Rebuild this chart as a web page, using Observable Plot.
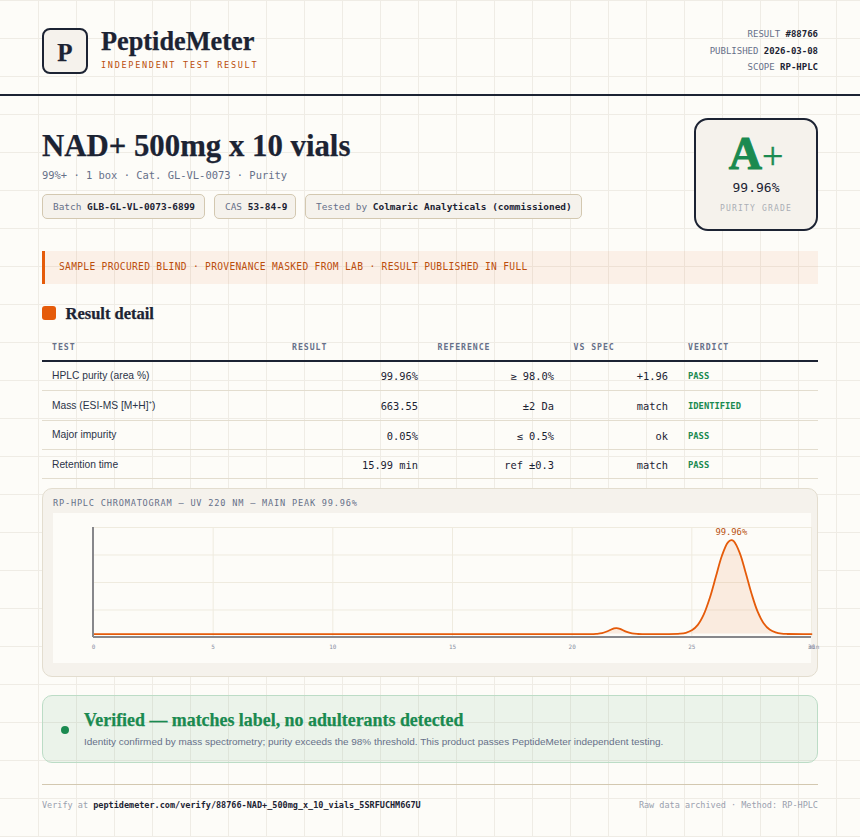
<!DOCTYPE html>
<html lang="en"><head><meta charset="utf-8">
<title>PeptideMeter — NAD+ 500mg x 10 vials</title>
<script src="https://cdn.jsdelivr.net/npm/d3@7"></script>
<script src="https://cdn.jsdelivr.net/npm/@observablehq/plot@0.6"></script>
<style>
:root{--ink:#1c2333;--mut:#667089;--acc:#e55b0a;--acd:#bb4e0c;--grn:#1a8a50;--pan:#f5f2ec;--lin:#e3ddcf;--chp:#d3c8b0}
*{box-sizing:border-box}
html,body{margin:0;padding:0;width:860px;height:837px;overflow:hidden}
body{position:relative;background-color:#fdfcf8;background-image:linear-gradient(#efece5 1px,transparent 1px);background-size:38px 38px;color:var(--ink);font-family:"DejaVu Sans Mono",monospace}
body::before{content:"";position:absolute;left:38px;top:0;right:0;bottom:0;background-image:linear-gradient(90deg,#efece5 1px,transparent 1px);background-size:38px 38px}
.a{position:absolute;white-space:nowrap;line-height:1;transform:translateY(-50%)}
.b{position:absolute}
.s{font-family:"Liberation Serif",serif;font-weight:700;-webkit-text-stroke:.25px currentColor}
.r{text-align:right;transform:translate(-100%,-50%)}
.c{text-align:center;transform:translate(-50%,-50%)}
.m{color:var(--mut)} b{font-weight:700;color:var(--ink)}
.chip{position:absolute;top:194px;height:25px;background:var(--pan);border:1px solid var(--chp);border-radius:5px;font-size:9.45px;line-height:23px;padding-left:10px;white-space:nowrap;color:var(--mut)}
.th{font-size:8.2px;font-weight:700;letter-spacing:.95px;color:var(--mut)}
.td{font-size:10.35px}
.lb{font-family:"Liberation Sans",sans-serif;font-size:10.25px;color:#2a3347}
.vd{font-size:8.8px;font-weight:700;color:var(--grn)}
.hl{position:absolute;left:42px;width:776px;height:1px;background:var(--lin)}
sup{font-size:6px;line-height:0}
svg{overflow:visible}
</style></head><body>
<div class="b" style="left:42px;top:28px;width:46px;height:46px;background:var(--pan);border:2px solid var(--ink);border-radius:8px"></div>
<div class="a c s" style="left:65px;top:52px;font-size:25px">P</div>
<div class="a s" style="left:101px;top:42px;font-size:26.3px" id="brand"></div>
<div class="a" style="left:101px;top:65px;font-size:8.5px;letter-spacing:1.72px;color:var(--acd)" id="tag"></div>
<div id="meta"></div>
<div class="b" style="left:0;top:94px;width:860px;height:2px;background:var(--ink)"></div>

<div class="a s" style="left:42px;top:146px;font-size:30.8px" id="title"></div>
<div class="a m" style="left:42px;top:175px;font-size:10.45px" id="sub"></div>
<div id="chips"></div>

<div class="b" style="left:694px;top:118px;width:124px;height:113px;background:var(--pan);border:2px solid var(--ink);border-radius:14px"></div>
<div class="a c s" style="left:756px;top:154px;font-size:46px;line-height:.7;color:var(--grn);-webkit-text-stroke:1px currentColor" id="grade"></div>
<div class="a c" style="left:756px;top:187px;font-size:13px" id="pct"></div>
<div class="a c" style="left:756px;top:209px;font-size:8px;letter-spacing:1.2px;color:#aaaeb5" id="gradeLab"></div>

<div class="b" style="left:42px;top:251px;width:776px;height:33px;background:rgba(229,91,10,.07);border-left:3px solid var(--acc)"></div>
<div class="a" style="left:59px;top:267px;font-size:9.6px;letter-spacing:.31px;color:var(--acd)" id="alert"></div>

<div class="b" style="left:42px;top:306px;width:14px;height:14px;background:var(--acc);border-radius:3px"></div>
<div class="a s" style="left:65.5px;top:313.5px;font-size:16.5px" id="section"></div>
<div id="table"></div>

<div class="b" style="left:42px;top:488px;width:776px;height:189px;background:var(--pan);border:1px solid var(--lin);border-radius:10px"></div>
<div class="a m" style="left:53px;top:503px;font-size:8.6px;letter-spacing:.8px" id="chartTitle"></div>
<div class="b" style="left:53px;top:513px;width:758px;height:150px;background:#fdfcf8"></div>
<div class="b" style="left:53px;top:513px" id="chart"></div>

<div class="b" style="left:42px;top:695px;width:776px;height:68px;background:rgba(26,138,80,.08);border:1px solid #bcdcc6;border-radius:10px"></div>
<div class="b" style="left:61px;top:726px;width:8px;height:8px;border-radius:50%;background:var(--grn)"></div>
<div class="a s" style="left:84px;top:721px;font-size:17.9px;color:var(--grn)" id="vTitle"></div>
<div class="a lb" style="left:84px;top:742px;font-size:9.95px;color:var(--mut)" id="vSub"></div>
<div class="b" style="left:42px;top:784px;width:776px;height:1px;background:var(--chp)"></div>
<div class="a" style="left:42px;top:805px;font-size:8.5px;color:#9aa0ae" id="foot"></div>
<div class="a r" style="left:818px;top:805px;font-size:8.5px;color:#9aa0ae" id="footR"></div>

<script>
// ---- text ----
const brand = "PeptideMeter";
const tagline = "INDEPENDENT TEST RESULT";
const metaLabels = ["RESULT", "PUBLISHED", "SCOPE"];
const metaValues = ["#88766", "2026-03-08", "RP-HPLC"];
const title = "NAD+ 500mg x 10 vials";
const subtitle = "99%+ · 1 box · Cat. GL-VL-0073 · Purity";
const chipLabels = ["Batch", "CAS", "Tested by"];
const chipValues = ["GLB-GL-VL-0073-6899", "53-84-9", "Colmaric Analyticals (commissioned)"];
const alertText = "SAMPLE PROCURED BLIND · PROVENANCE MASKED FROM LAB · RESULT PUBLISHED IN FULL";
const tableHeaders = ["TEST", "RESULT", "REFERENCE", "VS SPEC", "VERDICT"];
const tests = ["HPLC purity (area %)", "Mass (ESI-MS [M+H]<sup>+</sup>)", "Major impurity", "Retention time"];
const results = ["99.96%", "663.55", "0.05%", "15.99 min"];
const references = ["≥ 98.0%", "±2 Da", "≤ 0.5%", "ref ±0.3"];
const vsSpec = ["+1.96", "match", "ok", "match"];
const verdicts = ["PASS", "IDENTIFIED", "PASS", "PASS"];

// ---- chromatogram ----
const minutes = [0, 5, 10, 15, 20, 20.75, 21, 21.25, 21.5, 21.75, 21.85, 22, 22.25, 22.5, 22.75, 23, 24, 24.5, 24.75, 25, 25.25, 25.5, 25.75, 26, 26.25, 26.5, 26.65, 26.75, 27, 27.25, 27.5, 27.75, 28, 28.25, 28.5, 28.75, 29, 30];
const signal  = [3.1, 3.1, 3.1, 3.1, 3.1, 3.1, 3.3, 3.9, 5.9, 8.3, 8.6, 7.9, 5.3, 3.7, 3.2, 3.1, 3.1, 3.5, 4.3, 6.5, 11.5, 21, 35.9, 54.9, 73.9, 86.3, 88.6, 87.6, 77, 58.9, 39.5, 23.5, 13, 7.2, 4.6, 3.5, 3.2, 3.1];
const xTicks = [0, 5, 10, 15, 20, 25, 30];
const yGrid = [0, 25, 50, 75, 100];
const baselineLevel = 3.1;
const peakLabel = {t: 26.65, v: 95.5, text: "99.96%"};

const $ = id => document.getElementById(id);
const put = (parent, cls, style, html) => { const d = document.createElement("div"); d.className = cls; d.style.cssText = style; d.innerHTML = html; parent.appendChild(d); return d; };

$("brand").textContent = brand;
$("tag").textContent = tagline;
$("title").textContent = title;
$("sub").textContent = subtitle;
$("grade").innerHTML = 'A<span style="font-weight:400;font-size:38px;-webkit-text-stroke:.4px currentColor">+</span>';
$("pct").textContent = "99.96%";
$("gradeLab").textContent = "PURITY GRADE";
$("alert").textContent = alertText;
$("section").textContent = "Result detail";
$("chartTitle").textContent = "RP-HPLC CHROMATOGRAM — UV 220 NM — MAIN PEAK 99.96%";
$("vTitle").textContent = "Verified — matches label, no adulterants detected";
$("vSub").textContent = "Identity confirmed by mass spectrometry; purity exceeds the 98% threshold. This product passes PeptideMeter independent testing.";
$("foot").innerHTML = "Verify at <b>peptidemeter.com/verify/88766-NAD+_500mg_x_10_vials_5SRFUCHM6G7U</b>";
$("footR").textContent = "Raw data archived · Method: RP-HPLC";

[34, 51, 67].forEach((y, i) => put($("meta"), "a r m", `left:818px;top:${y}px;font-size:9px`, `${metaLabels[i]} <b>${metaValues[i]}</b>`));
[[42, 163], [214, 82], [305, 277]].forEach(([l, w], i) => put($("chips"), "chip", `left:${l}px;width:${w}px`, `${chipLabels[i]} <b>${chipValues[i]}</b>`));

const T = $("table");
[52, 292, 437.5, 573.5, 688].forEach((x, i) => put(T, "a th", `left:${x}px;top:347px`, tableHeaders[i]));
put(T, "hl", "top:360px;height:2px;background:var(--ink)", "");
[375, 405, 434.5, 464].forEach((y, i) => {
  put(T, "a lb", `left:52px;top:${y + 0.7}px`, tests[i]);
  put(T, "a r td", `left:418px;top:${y + 1}px`, results[i]);
  put(T, "a r td", `left:554px;top:${y + 1}px`, references[i]);
  put(T, "a r td", `left:668px;top:${y + 1}px`, vsSpec[i]);
  put(T, "a vd", `left:688px;top:${y + 1}px`, verdicts[i]);
});
[390, 420, 449, 478].forEach(y => put(T, "hl", `top:${y}px`, ""));

// ---- chart ----
const rows = minutes.map((t, i) => ({t, v: signal[i]}));
const gridColor = "#efebdf", axisColor = "#87878b", mono = "DejaVu Sans Mono";
$("chart").appendChild(Plot.plot({
  width: 758, height: 150,
  marginLeft: 40, marginRight: 0, marginTop: 14, marginBottom: 26,
  style: {background: "transparent", overflow: "visible", fontFamily: mono},
  x: {domain: [0, 30], label: null},
  y: {domain: [0, 100], label: null, axis: null},
  marks: [
    Plot.gridX(xTicks, {stroke: gridColor, strokeOpacity: 1}),
    Plot.gridY(yGrid, {stroke: gridColor, strokeOpacity: 1}),
    Plot.areaY(rows, {x: "t", y1: baselineLevel, y2: "v", fill: "#e55b0a", fillOpacity: 0.1, curve: "catmull-rom"}),
    Plot.lineY(rows, {x: "t", y: "v", stroke: "#e55b0a", strokeWidth: 1.8, curve: "catmull-rom"}),
    Plot.ruleX([0], {stroke: axisColor, strokeWidth: 2, dx: -0.5}),
    Plot.ruleY([0], {stroke: axisColor, strokeWidth: 2, dy: -0.5}),
    Plot.axisX({ticks: xTicks, tickFormat: d => d, tickSize: 0, tickPadding: 7, fontSize: 6, color: "#8a90a4", label: null}),
    Plot.text([peakLabel], {x: "t", y: "v", text: "text", fontSize: 8.8, fill: "#b8500f", fontFamily: mono}),
    Plot.text(["min"], {x: [30], y: [0], text: d => d, fontSize: 6, dx: -3, dy: 10, textAnchor: "start", fill: "#8a90a4", fontFamily: mono})
  ]
}));
</script>
</body></html>
